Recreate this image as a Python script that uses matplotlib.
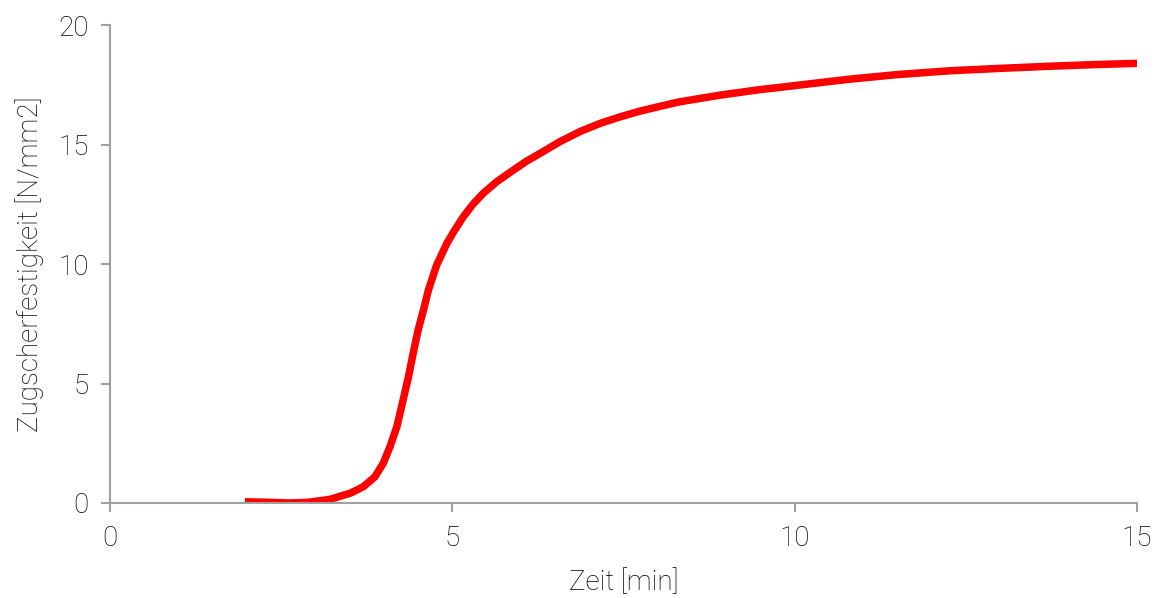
import matplotlib
matplotlib.use("Agg")
import matplotlib.pyplot as plt

# --- Données ---
zeit = [1.97, 2.3, 2.63, 2.9, 3.21, 3.51, 3.70, 3.87, 3.99, 4.09, 4.19, 4.28,
        4.36, 4.43, 4.50, 4.58, 4.65, 4.77, 4.92, 5.03, 5.16, 5.30, 5.45,
        5.65, 5.89, 6.08, 6.28, 6.57, 6.86, 7.16, 7.45, 7.74, 8.03, 8.32, 8.91,
        9.49, 9.83, 10.3, 10.81, 11.5, 12.27, 13.0, 13.73, 14.4, 15.0]
festigkeit = [0.05, 0.03, 0.0, 0.03, 0.15, 0.41, 0.68, 1.10, 1.66, 2.36, 3.2, 4.3,
              5.3, 6.3, 7.24, 8.1, 8.91, 9.95, 10.87, 11.4, 11.98, 12.5, 12.96,
              13.45, 13.93, 14.3, 14.63, 15.12, 15.54, 15.89, 16.16, 16.4, 16.6, 16.79, 17.07,
              17.3, 17.41, 17.57, 17.74, 17.93, 18.09, 18.19, 18.28, 18.35, 18.40]

x_ticks = [0, 5, 10, 15]
y_ticks = [0, 5, 10, 15, 20]

plt.rcParams['font.family'] = ['Roboto', 'DejaVu Sans']
plt.rcParams['font.weight'] = 'light'

fig = plt.figure(figsize=(11.63, 5.98), dpi=100)
ax = fig.add_axes([0.0946, 0.1589, 0.8831, 0.7991])

ax.plot(zeit, festigkeit, color='#ff0000', linewidth=5.4,
        solid_capstyle='butt', solid_joinstyle='round', zorder=1)

ax.set_xlim(0, 15)
ax.set_ylim(0, 20)
ax.set_xticks(x_ticks)
ax.set_yticks(y_ticks)

for s in ['top', 'right']:
    ax.spines[s].set_visible(False)
for s in ['left', 'bottom']:
    ax.spines[s].set_color('#a0a0a0')
    ax.spines[s].set_linewidth(1.5)
    ax.spines[s].set_zorder(3)

ax.tick_params(axis='both', direction='out', length=6.5, width=1.5,
               color='#a0a0a0', labelsize=20, labelcolor='#000000', pad=9)

ax.set_xlabel("Zeit [min]", fontsize=20, color='#000000', fontweight='light', labelpad=13)
ax.set_ylabel("Zugscherfestigkeit [N/mm2]", fontsize=20, color='#000000',
              fontweight='light', labelpad=10)

fig.savefig("out.png", dpi=100)
